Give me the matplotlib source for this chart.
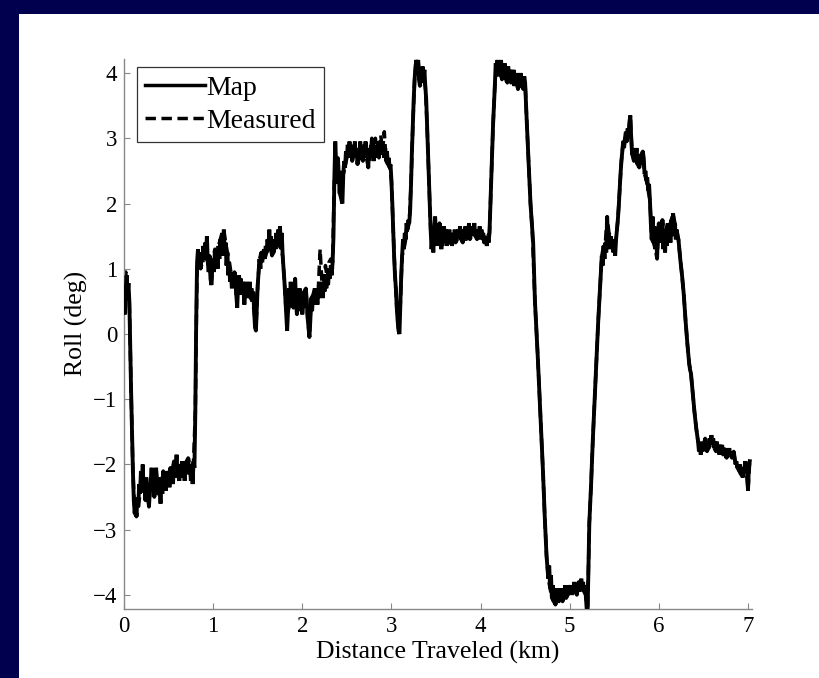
import matplotlib
matplotlib.use("Agg")
import matplotlib.pyplot as plt
from matplotlib.patches import Rectangle
from matplotlib.lines import Line2D

# ---------------- data ----------------
map_km = [
    0.00, 0.01, 0.02, 0.03, 0.04, 0.05, 0.06, 0.07, 0.08, 0.09,
    0.10, 0.11, 0.12, 0.13, 0.14, 0.15, 0.16, 0.17, 0.18, 0.19,
    0.20, 0.21, 0.22, 0.23, 0.24, 0.25, 0.26, 0.27, 0.28, 0.29,
    0.30, 0.31, 0.32, 0.33, 0.34, 0.35, 0.36, 0.37, 0.38, 0.39,
    0.40, 0.41, 0.42, 0.43, 0.44, 0.45, 0.46, 0.47, 0.48, 0.49,
    0.50, 0.51, 0.52, 0.53, 0.54, 0.55, 0.56, 0.57, 0.58, 0.59,
    0.60, 0.61, 0.62, 0.63, 0.64, 0.65, 0.66, 0.67, 0.68, 0.69,
    0.70, 0.71, 0.72, 0.73, 0.74, 0.75, 0.76, 0.77, 0.78, 0.79,
    0.80, 0.81, 0.82, 0.83, 0.84, 0.85, 0.86, 0.87, 0.88, 0.89,
    0.90, 0.91, 0.92, 0.93, 0.94, 0.95, 0.96, 0.97, 0.98, 0.99,
    1.00, 1.01, 1.02, 1.03, 1.04, 1.05, 1.06, 1.07, 1.08, 1.09,
    1.10, 1.11, 1.12, 1.13, 1.14, 1.15, 1.16, 1.17, 1.18, 1.19,
    1.20, 1.21, 1.22, 1.23, 1.24, 1.25, 1.26, 1.27, 1.28, 1.29,
    1.30, 1.31, 1.32, 1.33, 1.34, 1.35, 1.36, 1.37, 1.38, 1.39,
    1.40, 1.41, 1.42, 1.43, 1.44, 1.45, 1.46, 1.47, 1.48, 1.49,
    1.50, 1.51, 1.52, 1.53, 1.54, 1.55, 1.56, 1.57, 1.58, 1.59,
    1.60, 1.61, 1.62, 1.63, 1.64, 1.65, 1.66, 1.67, 1.68, 1.69,
    1.70, 1.71, 1.72, 1.73, 1.74, 1.75, 1.76, 1.77, 1.78, 1.79,
    1.80, 1.81, 1.82, 1.83, 1.84, 1.85, 1.86, 1.87, 1.88, 1.89,
    1.90, 1.91, 1.92, 1.93, 1.94, 1.95, 1.96, 1.97, 1.98, 1.99,
    2.00, 2.01, 2.02, 2.03, 2.04, 2.05, 2.06, 2.07, 2.08, 2.09,
    2.10, 2.11, 2.12, 2.13, 2.14, 2.15, 2.16, 2.17, 2.18, 2.19,
    2.20, 2.21, 2.22, 2.23, 2.24, 2.25, 2.26, 2.27, 2.28, 2.29,
    2.30, 2.31, 2.32, 2.33, 2.34, 2.35, 2.36, 2.37, 2.38, 2.39,
    2.40, 2.41, 2.42, 2.43, 2.44, 2.45, 2.46, 2.47, 2.48, 2.49,
    2.50, 2.51, 2.52, 2.53, 2.54, 2.55, 2.56, 2.57, 2.58, 2.59,
    2.60, 2.61, 2.62, 2.63, 2.64, 2.65, 2.66, 2.67, 2.68, 2.69,
    2.70, 2.71, 2.72, 2.73, 2.74, 2.75, 2.76, 2.77, 2.78, 2.79,
    2.80, 2.81, 2.82, 2.83, 2.84, 2.85, 2.86, 2.87, 2.88, 2.89,
    2.90, 2.91, 2.92, 2.93, 2.94, 2.95, 2.96, 2.97, 2.98, 2.99,
    3.00, 3.01, 3.02, 3.03, 3.04, 3.05, 3.06, 3.07, 3.08, 3.09,
    3.10, 3.11, 3.12, 3.13, 3.14, 3.15, 3.16, 3.17, 3.18, 3.19,
    3.20, 3.21, 3.22, 3.23, 3.24, 3.25, 3.26, 3.27, 3.28, 3.29,
    3.30, 3.31, 3.32, 3.33, 3.34, 3.35, 3.36, 3.37, 3.38, 3.39,
    3.40, 3.41, 3.42, 3.43, 3.44, 3.45, 3.46, 3.47, 3.48, 3.49,
    3.50, 3.51, 3.52, 3.53, 3.54, 3.55, 3.56, 3.57, 3.58, 3.59,
    3.60, 3.61, 3.62, 3.63, 3.64, 3.65, 3.66, 3.67, 3.68, 3.69,
    3.70, 3.71, 3.72, 3.73, 3.74, 3.75, 3.76, 3.77, 3.78, 3.79,
    3.80, 3.81, 3.82, 3.83, 3.84, 3.85, 3.86, 3.87, 3.88, 3.89,
    3.90, 3.91, 3.92, 3.93, 3.94, 3.95, 3.96, 3.97, 3.98, 3.99,
    4.00, 4.01, 4.02, 4.03, 4.04, 4.05, 4.06, 4.07, 4.08, 4.09,
    4.10, 4.12, 4.14, 4.16,
    4.17, 4.18, 4.19, 4.20, 4.21, 4.22, 4.23, 4.24, 4.25, 4.26,
    4.27, 4.28, 4.29, 4.30, 4.31, 4.32, 4.33, 4.34, 4.35, 4.36,
    4.37, 4.38, 4.39, 4.40, 4.41, 4.42, 4.43, 4.44, 4.45, 4.46,
    4.47, 4.48, 4.49, 4.50,
    4.52, 4.54, 4.56, 4.58, 4.59, 4.61, 4.64, 4.67, 4.70, 4.72, 4.74, 4.76,
    4.77, 4.78, 4.79, 4.80, 4.81, 4.82, 4.83, 4.84, 4.85, 4.86,
    4.87, 4.88, 4.89, 4.90, 4.91, 4.92, 4.93, 4.94, 4.95, 4.96,
    4.97, 4.98, 4.99, 5.00, 5.01, 5.02, 5.03, 5.04, 5.05, 5.06,
    5.07, 5.08, 5.09, 5.10, 5.11, 5.12, 5.13, 5.14, 5.15, 5.16,
    5.17, 5.18, 5.19, 5.20, 5.21, 5.22,
    5.24, 5.26, 5.28, 5.30, 5.32, 5.34, 5.35,
    5.36, 5.37, 5.38, 5.39, 5.40, 5.41, 5.42, 5.43, 5.44, 5.45,
    5.46, 5.47, 5.48, 5.49, 5.50, 5.51, 5.52, 5.53, 5.54, 5.55,
    5.56, 5.57, 5.58, 5.59, 5.60, 5.61, 5.62, 5.63, 5.64, 5.65,
    5.66, 5.67, 5.68, 5.69, 5.70, 5.71, 5.72, 5.73, 5.74, 5.75,
    5.76, 5.77, 5.78, 5.79, 5.80, 5.81, 5.82, 5.83, 5.84, 5.85,
    5.86, 5.87, 5.88, 5.89, 5.90, 5.91, 5.92, 5.93, 5.94, 5.95,
    5.96, 5.97, 5.98, 5.99, 6.00, 6.01, 6.02, 6.03, 6.04, 6.05,
    6.06, 6.07, 6.08, 6.09, 6.10, 6.11, 6.12, 6.13, 6.14, 6.15,
    6.16, 6.17, 6.18, 6.19, 6.20, 6.21, 6.22,
    6.24, 6.26, 6.28, 6.30, 6.32, 6.34, 6.35, 6.36, 6.38, 6.40, 6.42, 6.44,
    6.45, 6.46, 6.47, 6.48, 6.49, 6.50, 6.51, 6.52, 6.53, 6.54,
    6.55, 6.56, 6.57, 6.58, 6.59, 6.60, 6.61, 6.62, 6.63, 6.64,
    6.65, 6.66, 6.67, 6.68, 6.69, 6.70, 6.71, 6.72, 6.73, 6.74,
    6.75, 6.76, 6.77, 6.78, 6.79, 6.80, 6.81, 6.82, 6.83, 6.84,
    6.85, 6.86, 6.87, 6.88, 6.89, 6.90, 6.91, 6.92, 6.93, 6.94,
    6.95, 6.96, 6.97, 6.98, 6.99, 7.00, 7.01, 7.02,
]

map_roll = [
    0.45, 0.30, 0.70, 0.90, 0.60, 0.78, 0.50, -0.20, -0.90, -1.50,
    -2.10, -2.55, -2.75, -2.60, -2.80, -2.50, -2.65, -2.30, -2.45, -2.10,
    -2.35, -2.00, -2.40, -2.25, -2.55, -2.20, -2.45, -2.30, -2.65, -2.40,
    -2.25, -2.05, -2.35, -2.20, -2.50, -2.30, -2.05, -2.30, -2.45, -2.20,
    -2.35, -2.60, -2.25, -2.45, -2.10, -2.35, -2.20, -2.40, -2.10, -2.30,
    -2.15, -2.35, -2.05, -2.25, -2.10, -2.30, -1.95, -2.20, -2.05, -1.85,
    -2.15, -2.00, -2.25, -2.05, -2.20, -1.95, -2.10, -2.00, -2.25, -2.05,
    -1.95, -2.15, -1.90, -2.10, -2.00, -2.25, -2.05, -2.30, -1.95, -2.05,
    -1.20, 0.20, 1.10, 1.30, 1.05, 1.20, 1.00, 1.25, 1.10, 1.35,
    1.15, 1.40, 1.20, 1.50, 1.10, 0.95, 1.20, 0.85, 0.75, 1.00,
    1.15, 0.95, 1.30, 1.10, 1.25, 1.00, 1.35, 1.15, 1.45, 1.20,
    1.55, 1.30, 1.60, 1.20, 1.40, 1.05, 1.25, 0.90, 1.10, 0.80,
    0.95, 0.70, 0.90, 0.75, 0.95, 0.80, 0.60, 0.40, 0.75, 0.90,
    0.70, 0.85, 0.60, 0.80, 0.70, 0.45, 0.65, 0.80, 0.55, 0.75,
    0.60, 0.80, 0.55, 0.70, 0.50, 0.65, 0.35, 0.10, 0.05, 0.40,
    0.75, 0.95, 1.15, 1.00, 1.25, 1.10, 1.20, 1.30, 1.15, 1.35,
    1.25, 1.45, 1.30, 1.60, 1.35, 1.50, 1.20, 1.40, 1.25, 1.45,
    1.30, 1.55, 1.35, 1.60, 1.40, 1.65, 1.30, 1.55, 1.20, 1.00,
    0.80, 0.55, 0.30, 0.05, 0.35, 0.70, 0.45, 0.80, 0.55, 0.75,
    0.40, 0.60, 0.85, 0.50, 0.30, 0.60, 0.45, 0.70, 0.35, 0.55,
    0.30, 0.50, 0.65, 0.40, 0.70, 0.50, 0.25, 0.10, -0.05, 0.20,
    0.55, 0.35, 0.60, 0.45, 0.70, 0.50, 0.65, 0.45, 0.70, 0.55,
    0.75, 0.60, 0.80, 0.55, 0.75, 0.65, 0.90, 0.70, 0.85, 0.75,
    1.00, 0.85, 1.05, 0.90, 1.10, 1.50, 2.40, 2.95, 2.60, 2.30,
    2.70, 2.40, 2.15, 2.50, 2.05, 2.00, 2.45, 2.65, 2.55, 2.80,
    2.70, 2.90, 2.75, 2.95, 2.70, 2.85, 2.65, 2.90, 2.75, 2.95,
    2.70, 2.85, 2.60, 2.80, 2.70, 2.95, 2.75, 2.85, 2.65, 2.90,
    2.75, 2.95, 2.70, 2.80, 2.55, 2.85, 2.70, 2.90, 2.75, 2.95,
    2.65, 2.85, 2.70, 2.90, 2.75, 2.95, 2.70, 2.85, 2.75, 2.95,
    2.80, 2.90, 2.70, 2.85, 2.65, 2.80, 2.60, 2.70, 2.55, 2.60,
    2.35, 2.00, 1.60, 1.20, 0.90, 0.70, 0.40, 0.20, 0.05, 0.00,
    0.45, 0.90, 1.20, 1.45, 1.30, 1.55, 1.45, 1.70, 1.60, 1.75,
    1.70, 1.90, 2.30, 2.80, 3.20, 3.60, 3.90, 4.10, 4.20, 4.05,
    4.20, 3.90, 3.80, 4.00, 3.85, 4.10, 3.90, 4.05, 3.80, 3.60,
    3.20, 2.80, 2.40, 2.00, 1.60, 1.30, 1.50, 1.25, 1.60, 1.80,
    1.55, 1.35, 1.60, 1.40, 1.70, 1.50, 1.30, 1.55, 1.40, 1.65,
    1.45, 1.60, 1.35, 1.55, 1.45, 1.60, 1.40, 1.55, 1.35, 1.50,
    1.45, 1.60, 1.40, 1.55, 1.45, 1.60, 1.50, 1.65, 1.45, 1.55,
    1.40, 1.60, 1.50, 1.65, 1.45, 1.55, 1.50, 1.70, 1.45, 1.60,
    1.50, 1.65, 1.55, 1.70, 1.50, 1.60, 1.45, 1.55, 1.50, 1.65,
    1.45, 1.60, 1.50, 1.55, 1.40, 1.50, 1.45, 1.35, 1.50, 1.40,
    1.55, 2.40, 3.20, 3.80,
    4.15, 4.05, 4.20, 3.95, 4.15, 4.00, 4.20, 3.90, 4.10, 3.95,
    4.15, 3.90, 4.05, 3.85, 4.10, 3.95, 4.05, 3.85, 4.00, 3.90,
    4.05, 3.80, 3.95, 3.85, 4.00, 3.75, 3.95, 3.85, 4.00, 3.80,
    3.90, 3.75, 3.95, 3.85,
    3.20, 2.60, 2.00, 1.60, 1.40, 0.50, -0.30, -1.20, -2.10, -2.80, -3.40, -3.75,
    -3.55, -3.90, -3.70, -4.05, -3.85, -4.10, -3.95, -4.15, -3.90, -4.05,
    -3.95, -4.10, -3.90, -4.05, -3.95, -4.10, -3.90, -4.00, -3.85, -4.05,
    -3.90, -4.00, -3.85, -3.95, -3.85, -4.00, -3.90, -3.95, -3.80, -3.95,
    -3.85, -4.00, -3.90, -3.80, -3.95, -3.85, -3.75, -3.90, -3.80, -3.95,
    -3.85, -4.00, -4.20, -4.30, -3.60, -2.90,
    -2.30, -1.60, -1.00, -0.40, 0.20, 0.70, 0.95,
    1.20, 1.05, 1.35, 1.15, 1.40, 1.25, 1.80, 1.35, 1.55, 1.30,
    1.50, 1.35, 1.45, 1.25, 1.40, 1.20, 1.45, 1.60, 1.75, 1.95,
    2.20, 2.45, 2.65, 2.80, 2.95, 2.85, 3.00, 3.10, 2.95, 3.15,
    3.05, 3.25, 3.35, 3.00, 2.75, 2.85, 2.65, 2.80, 2.70, 2.85,
    2.60, 2.75, 2.55, 2.65, 2.75, 2.60, 2.80, 2.70, 2.45, 2.50,
    2.35, 2.40, 2.20, 2.30, 2.05, 1.70, 1.45, 1.80, 1.40, 1.65,
    1.30, 1.60, 1.15, 1.55, 1.70, 1.40, 1.65, 1.45, 1.75, 1.30,
    1.55, 1.25, 1.60, 1.35, 1.70, 1.45, 1.65, 1.40, 1.75, 1.50,
    1.85, 1.55, 1.70, 1.45, 1.60, 1.50, 1.45,
    1.15, 0.90, 0.60, 0.20, -0.15, -0.45, -0.55, -0.60, -0.90, -1.20, -1.45, -1.65,
    -1.80, -1.70, -1.85, -1.65, -1.80, -1.70, -1.75, -1.60, -1.75, -1.80,
    -1.65, -1.75, -1.60, -1.70, -1.55, -1.70, -1.60, -1.75, -1.65, -1.80,
    -1.65, -1.75, -1.70, -1.85, -1.70, -1.80, -1.70, -1.85, -1.75, -1.80,
    -1.75, -1.90, -1.80, -1.85, -1.75, -1.85, -1.80, -1.90, -1.85, -1.80,
    -1.90, -2.00, -1.95, -2.05, -2.00, -2.10, -2.00, -2.15, -2.05, -2.20,
    -2.10, -2.05, -1.95, -2.05, -2.10, -2.40, -2.05, -1.95,
]

measured_km = [
    0.00, 0.02, 0.04, 0.06, 0.08, 0.10, 0.12, 0.14, 0.16, 0.18,
    0.20, 0.22, 0.24, 0.26, 0.28, 0.30, 0.32, 0.34, 0.36, 0.38,
    0.40, 0.42, 0.44, 0.46, 0.48, 0.50, 0.52, 0.54, 0.56, 0.58,
    0.60, 0.62, 0.64, 0.66, 0.68, 0.70, 0.72, 0.74, 0.76, 0.78,
    0.80, 0.82, 0.84, 0.86, 0.88, 0.90, 0.92, 0.94, 0.96, 0.98,
    1.00, 1.02, 1.04, 1.06, 1.08, 1.10, 1.12, 1.14, 1.16, 1.18,
    1.20, 1.22, 1.24, 1.26, 1.28, 1.30, 1.32, 1.34, 1.36, 1.38,
    1.40, 1.42, 1.44, 1.46, 1.48, 1.50, 1.52, 1.54, 1.56, 1.58,
    1.60, 1.62, 1.64, 1.66, 1.68, 1.70, 1.72, 1.74, 1.76, 1.78,
    1.80, 1.82, 1.84, 1.86, 1.88, 1.90, 1.92, 1.94, 1.96, 1.98,
    2.00, 2.02, 2.04, 2.06, 2.08, 2.10, 2.12, 2.14, 2.16, 2.18,
    2.20, 2.22, 2.24, 2.26, 2.28, 2.30, 2.32, 2.34, 2.36, 2.38,
    2.40, 2.42, 2.44, 2.46, 2.48, 2.50, 2.52, 2.54, 2.56, 2.58,
    2.60, 2.62, 2.64, 2.66, 2.68, 2.70, 2.72, 2.74, 2.76, 2.78,
    2.80, 2.82, 2.84, 2.86, 2.88, 2.90, 2.92, 2.94, 2.96, 2.98,
    3.00, 3.02, 3.04, 3.06, 3.08, 3.10, 3.12, 3.14, 3.16, 3.18,
    3.20, 3.22, 3.24, 3.26, 3.28, 3.30, 3.32, 3.34, 3.36, 3.38,
    3.40, 3.42, 3.44, 3.46, 3.48, 3.50, 3.52, 3.54, 3.56, 3.58,
    3.60, 3.62, 3.64, 3.66, 3.68, 3.70, 3.72, 3.74, 3.76, 3.78,
    3.80, 3.82, 3.84, 3.86, 3.88, 3.90, 3.92, 3.94, 3.96, 3.98,
    4.00, 4.02, 4.04, 4.06, 4.08, 4.10,
    4.12, 4.14, 4.16,
    4.18, 4.20, 4.22, 4.24, 4.26, 4.28, 4.30, 4.32, 4.34, 4.36,
    4.38, 4.40, 4.42, 4.44, 4.46, 4.48, 4.50,
    4.52, 4.54, 4.56, 4.58, 4.61, 4.64, 4.67, 4.70, 4.72, 4.74, 4.76,
    4.78, 4.80, 4.82, 4.84, 4.86, 4.88, 4.90, 4.92, 4.94, 4.96,
    4.98, 5.00, 5.02, 5.04, 5.06, 5.08, 5.10, 5.12, 5.14, 5.16,
    5.18, 5.20, 5.22, 5.24, 5.26, 5.28, 5.30, 5.32, 5.34,
    5.36, 5.38, 5.40, 5.42, 5.44, 5.46, 5.48, 5.50, 5.52, 5.54,
    5.56, 5.58, 5.60, 5.62, 5.64, 5.66, 5.68, 5.70, 5.72, 5.74,
    5.76, 5.78, 5.80, 5.82, 5.84, 5.86, 5.88, 5.90, 5.92, 5.94,
    5.96, 5.98, 6.00, 6.02, 6.04, 6.06, 6.08, 6.10, 6.12, 6.14,
    6.16, 6.18, 6.20, 6.22,
    6.24, 6.26, 6.28, 6.30, 6.32, 6.34, 6.36, 6.38, 6.40, 6.42, 6.44,
    6.46, 6.48, 6.50, 6.52, 6.54, 6.56, 6.58, 6.60, 6.62, 6.64,
    6.66, 6.68, 6.70, 6.72, 6.74, 6.76, 6.78, 6.80, 6.82, 6.84,
    6.86, 6.88, 6.90, 6.92, 6.94, 6.96, 6.98, 7.00, 7.02,
]

measured_roll = [
    0.45, 0.95, 0.60, 0.50, -0.90, -2.10, -2.75, -2.80, -2.65, -2.45,
    -2.35, -2.40, -2.55, -2.45, -2.65, -2.25, -2.35, -2.50, -2.05, -2.45,
    -2.35, -2.25, -2.10, -2.20, -2.10, -2.15, -2.05, -2.10, -1.95, -2.05,
    -2.15, -2.25, -2.20, -2.10, -2.25, -1.95, -1.90, -2.00, -2.05, -1.95,
    -1.20, 1.10, 1.05, 1.00, 1.10, 1.15, 1.20, 1.10, 1.20, 0.75,
    1.15, 1.30, 1.25, 1.35, 1.45, 1.55, 1.60, 1.40, 1.25, 1.10,
    0.95, 0.90, 0.95, 0.60, 0.75, 0.70, 0.60, 0.70, 0.65, 0.55,
    0.60, 0.55, 0.50, 0.35, 0.05, 0.75, 1.15, 1.25, 1.20, 1.15,
    1.25, 1.30, 1.35, 1.20, 1.25, 1.30, 1.35, 1.40, 1.30, 1.20,
    0.80, 0.30, 0.35, 0.45, 0.55, 0.40, 0.85, 0.30, 0.45, 0.35,
    0.30, 0.65, 0.70, 0.25, -0.05, 0.55, 0.60, 0.70, 0.65, 0.70,
    1.30, 0.80, 0.75, 1.05, 0.85, 1.10, 1.15, 1.10, 2.40, 2.60,
    2.70, 2.15, 2.05, 2.45, 2.55, 2.70, 2.75, 2.70, 2.65, 2.75,
    2.70, 2.60, 2.70, 2.75, 2.65, 2.75, 2.70, 2.55, 2.70, 3.00,
    2.65, 3.00, 2.75, 2.70, 3.05, 2.80, 3.10, 2.65, 2.60, 2.55,
    2.35, 1.60, 0.90, 0.40, 0.05, 0.45, 1.20, 1.30, 1.45, 1.60,
    1.70, 2.30, 3.20, 3.90, 4.20, 4.20, 3.80, 3.85, 3.90, 3.80,
    3.20, 2.40, 1.60, 1.50, 1.60, 1.55, 1.60, 1.70, 1.30, 1.40,
    1.45, 1.35, 1.45, 1.40, 1.35, 1.45, 1.40, 1.45, 1.50, 1.45,
    1.40, 1.50, 1.45, 1.50, 1.45, 1.50, 1.55, 1.50, 1.45, 1.50,
    1.45, 1.50, 1.40, 1.45, 1.50, 1.55,
    2.40, 3.20, 3.80,
    4.05, 3.95, 4.00, 3.90, 3.95, 3.90, 3.85, 3.95, 3.85, 3.90,
    3.80, 3.85, 3.75, 3.85, 3.80, 3.75, 3.85,
    3.20, 2.60, 2.00, 1.60, 0.50, -0.30, -1.20, -2.10, -2.80, -3.40, -3.75,
    -3.90, -4.05, -4.10, -4.15, -4.05, -4.10, -4.05, -4.10, -4.00, -4.05,
    -4.00, -3.95, -4.00, -3.95, -3.95, -4.00, -3.80, -3.85, -3.90, -3.95,
    -4.00, -4.30, -2.90, -2.30, -1.60, -1.00, -0.40, 0.20, 0.70,
    1.20, 1.35, 1.40, 1.80, 1.55, 1.50, 1.45, 1.40, 1.45, 1.75,
    2.20, 2.65, 2.95, 3.00, 2.95, 3.05, 3.35, 2.75, 2.65, 2.70,
    2.60, 2.55, 2.75, 2.80, 2.45, 2.35, 2.20, 2.05, 1.45, 1.40,
    1.30, 1.15, 1.70, 1.65, 1.75, 1.55, 1.60, 1.70, 1.65, 1.75,
    1.85, 1.70, 1.60, 1.45,
    1.15, 0.90, 0.60, 0.20, -0.15, -0.45, -0.60, -0.90, -1.20, -1.45, -1.65,
    -1.70, -1.65, -1.70, -1.60, -1.80, -1.75, -1.70, -1.70, -1.75, -1.80,
    -1.75, -1.85, -1.80, -1.85, -1.80, -1.90, -1.85, -1.85, -1.90, -1.80,
    -2.00, -2.05, -2.10, -2.15, -2.20, -2.05, -2.05, -2.40, -1.95,
]

series_labels = ["Map", "Measured"]
x_ticks = [0, 1, 2, 3, 4, 5, 6, 7]
y_ticks = [-4, -3, -2, -1, 0, 1, 2, 3, 4]
x_label = "Distance Traveled (km)"
y_label = "Roll (deg)"

# ---------------- figure ----------------
plt.rcParams['font.family'] = ['Liberation Serif', 'DejaVu Serif']
plt.rcParams['axes.unicode_minus'] = True

W, H = 820, 678
fig = plt.figure(figsize=(W / 100, H / 100), dpi=100)
fig.patch.set_facecolor('#00004e')
fig.patches.append(Rectangle((19 / W, 0), 1 - 19 / W, 1 - 14 / H,
                             transform=fig.transFigure, facecolor='white',
                             edgecolor='none', zorder=-10))

ax = fig.add_axes([124 / W, 1 - 609 / H, (752 - 124) / W, (609 - 59) / H])
ax.set_zorder(5)
ax.set_facecolor('white')

ax.plot(measured_km, measured_roll, color='black', lw=2.5,
        ls=(0, (3.0, 1.6)), zorder=2, solid_capstyle='butt')
ax.plot(map_km, map_roll, color='black', lw=2.8, zorder=3,
        solid_joinstyle='miter')

ax.set_xlim(0, 7.045)
ax.set_ylim(-4.215, 4.215)
ax.set_xticks(x_ticks)
ax.set_yticks(y_ticks)

for side in ('top', 'right'):
    ax.spines[side].set_visible(False)
for side in ('left', 'bottom'):
    ax.spines[side].set_color('#888888')
    ax.spines[side].set_linewidth(1.0)

ax.tick_params(direction='in', length=4, width=0.8, color='#888888',
               labelcolor='black', labelsize=16.5, pad=5)

ax.set_xlabel(x_label, fontsize=18.5, labelpad=3)
ax.set_ylabel(y_label, fontsize=18.5)
ax.yaxis.set_label_coords(-0.057, (609 - 323) / 550)

handles = [Line2D([], [], color='black', lw=2.5),
           Line2D([], [], color='black', lw=2.5, ls=(0, (3.0, 1.6)))]
leg = ax.legend(handles, series_labels, loc='upper left',
                bbox_to_anchor=(13 / 628, (609 - 67) / 550),
                borderaxespad=0, fontsize=20, frameon=True, fancybox=False,
                edgecolor='black', handlelength=2.15, handletextpad=0.03,
                borderpad=0.3, labelspacing=0.27)
leg.get_frame().set_linewidth(0.9)

fig.savefig('out.png', dpi=100, facecolor=fig.get_facecolor())
